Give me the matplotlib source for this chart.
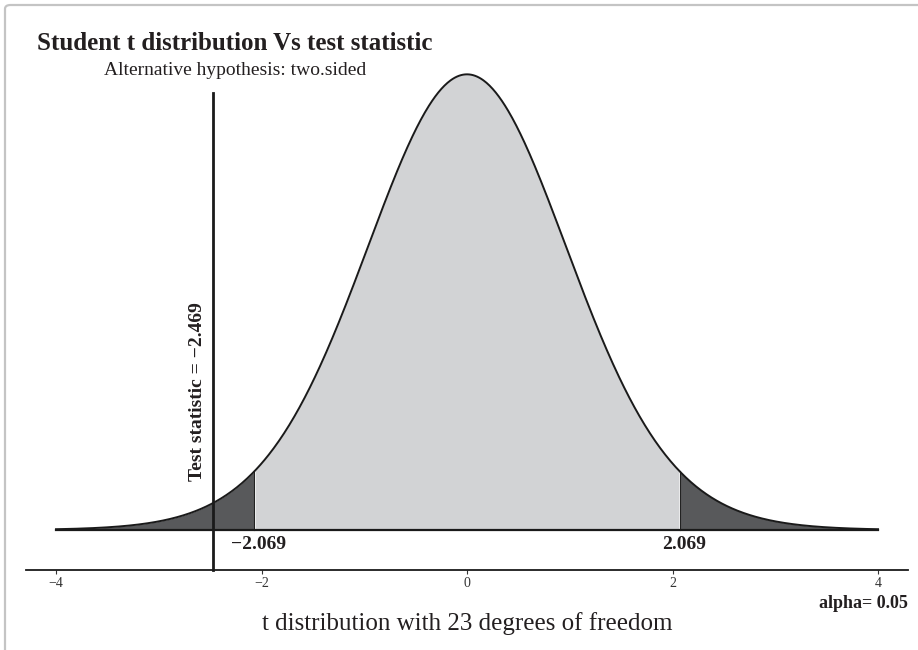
import math
import numpy as np
import matplotlib
matplotlib.use("Agg")
import matplotlib.pyplot as plt
from matplotlib.patches import FancyBboxPatch

# --- chart values ---
df = 23
alpha = 0.05
t_crit = 2.069
t_stat = -2.469
x_lo, x_hi = -4.0, 4.0
xticks = [-4, -2, 0, 2, 4]
title = "Student t distribution Vs test statistic"
subtitle = "Alternative hypothesis: two.sided"
xlabel = f"t distribution with {df} degrees of freedom"


def t_pdf(x, nu):
    c = math.gamma((nu + 1) / 2) / (math.sqrt(nu * math.pi) * math.gamma(nu / 2))
    return c * (1 + x ** 2 / nu) ** (-(nu + 1) / 2)


plt.rcParams["font.family"] = ["Liberation Serif", "DejaVu Serif"]

light, dark = "#d2d3d5", "#58595b"

fig = plt.figure(figsize=(9.18, 6.5), dpi=100)
ax = fig.add_axes([0, 0, 1, 1])
ax.set_xlim(-4.545, 4.389)
ax.set_ylim(-0.1039, 0.459)
ax.patch.set_alpha(0)

xs = np.linspace(x_lo, x_hi, 801)
ys = t_pdf(xs, df)

# --- regions ---
mid = np.abs(xs) <= t_crit
ax.fill_between(xs, 0, ys, where=mid, color=light, lw=0, zorder=1)
ax.fill_between(xs, 0, ys, where=xs <= -t_crit, color=dark, lw=0, zorder=1)
ax.fill_between(xs, 0, ys, where=xs >= t_crit, color=dark, lw=0, zorder=1)
for c in (-t_crit, t_crit):
    ax.plot([c, c], [0, t_pdf(c, df)], color="#222222", lw=0.8, zorder=2)

ax.plot(xs, ys, color="#1a1a1a", lw=1.4, zorder=3)
ax.plot([x_lo, x_hi], [0, 0], color="#1a1a1a", lw=1.6, zorder=3)

# --- axis ---
axis_y = -0.0346
for s in ("top", "right", "left"):
    ax.spines[s].set_visible(False)
ax.spines["bottom"].set_position(("data", axis_y))
ax.spines["bottom"].set_bounds(-4.29, 4.29)
ax.spines["bottom"].set_linewidth(1.3)
ax.spines["bottom"].set_color("#1a1a1a")
ax.set_xticks(xticks)
ax.set_xticklabels([f"{t}".replace("-", "\u2212") for t in xticks])
ax.tick_params(axis="x", direction="out", length=3, width=0.8, pad=2,
               labelsize=10, colors="#333333")
ax.set_yticks([])

# --- test statistic ---
ax.plot([t_stat, t_stat], [axis_y, 0.3785], color="#1a1a1a", lw=2.0, zorder=4)
ax.text(t_stat - 0.155, 0.1195, f"Test statistic = {t_stat:.3f}".replace("-", "\u2212"),
        rotation=90, ha="center", va="center", fontsize=14, fontweight="bold",
        color="#231f20")

# --- critical values ---
for c in (-t_crit, t_crit):
    ax.text(c + 0.04, -0.0165, f"{c:.3f}".replace("-", "\u2212"), ha="center",
            va="baseline", fontsize=14, fontweight="bold", color="#231f20")

# --- texts ---
fig.text(0.0403, 0.923, title, ha="left", va="baseline", fontsize=18,
         fontweight="bold", color="#231f20")
fig.text(0.256, 0.8846, subtitle, ha="center", va="baseline", fontsize=14,
         color="#231f20")
fig.text(0.5087, 0.0308, xlabel, ha="center", va="baseline", fontsize=18,
         color="#231f20")
fig.text(0.989, 0.0646, f"alpha= {alpha}", ha="right", va="baseline", fontsize=13,
         fontweight="bold", color="#231f20")

# frame of the card
fig.patches.append(FancyBboxPatch((5 / 918, -0.05), 1.05, 1 - 5 / 650 + 0.05,
                                  boxstyle="round,pad=0,rounding_size=0.006",
                                  transform=fig.transFigure, fc="none",
                                  ec="#c4c4c4", lw=1.6))

fig.savefig("out.png", dpi=100)
